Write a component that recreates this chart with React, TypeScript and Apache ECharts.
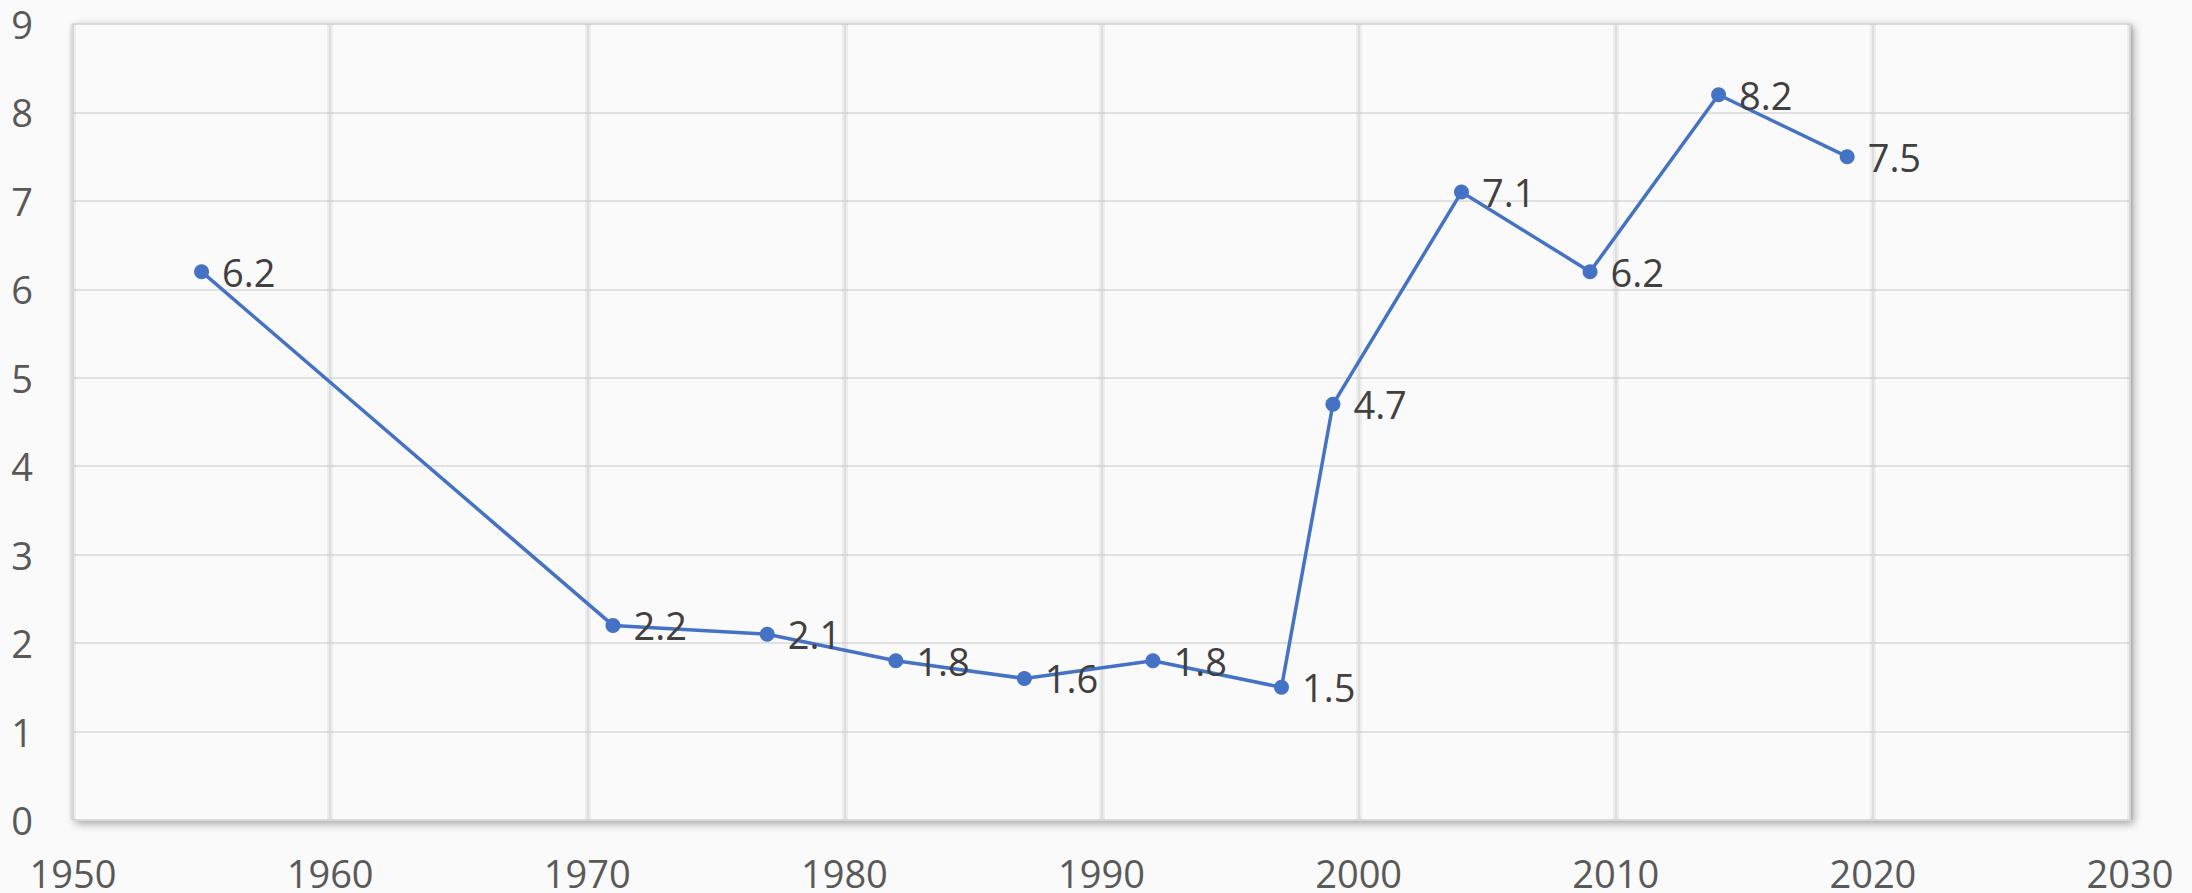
import React, { useEffect, useRef } from "react";
import * as echarts from "echarts";

const years = [1955, 1971, 1977, 1982, 1987, 1992, 1997, 1999, 2004, 2009, 2014, 2019];
const values = [6.2, 2.2, 2.1, 1.8, 1.6, 1.8, 1.5, 4.7, 7.1, 6.2, 8.2, 7.5];

export default function App() {
  const ref = useRef<HTMLDivElement>(null);
  useEffect(() => {
    document.body.style.margin = "0";
    const chart = echarts.init(ref.current!, null, { renderer: "svg" });
    const font = "'Open Sans', 'Noto Sans', sans-serif";
    chart.setOption({
      animation: false,
      backgroundColor: "#fafafa",
      grid: {
        show: true,
        left: 73,
        right: 62,
        top: 24,
        bottom: 73,
        backgroundColor: "#fafafa",
        borderColor: "#d9d9d9",
        borderWidth: 1.5,
        shadowColor: "rgba(0,0,0,0.35)",
        shadowBlur: 8,
        shadowOffsetX: 3,
        shadowOffsetY: 3,
      },
      xAxis: [
        {
          type: "value",
          min: 1950,
          max: 2030,
          interval: 10,
          axisLine: { show: false },
          axisTick: { show: false },
          axisLabel: {
            color: "#595959",
            fontSize: 38,
            fontFamily: font,
            margin: 34,
            formatter: (v: number) => String(v),
          },
          splitLine: { show: true, lineStyle: { color: "#d9d9d9", width: 1.5 } },
          z: 2,
        },
        {
          type: "value",
          min: 1949.85,
          max: 2029.85,
          interval: 10,
          show: true,
          position: "bottom",
          axisLine: { show: false },
          axisTick: { show: false },
          axisLabel: { show: false },
          splitLine: { show: true, lineStyle: { color: "rgba(0,0,0,0.05)", width: 6 } },
          z: 1,
        },
      ],
      yAxis: {
        type: "value",
        min: 0,
        max: 9,
        interval: 1,
        axisLine: { show: false },
        axisTick: { show: false },
        axisLabel: { color: "#595959", fontSize: 38, fontFamily: font, margin: 40 },
        splitLine: { show: true, lineStyle: { color: "#d9d9d9", width: 1.5 } },
      },
      series: [
        {
          type: "line",
          xAxisIndex: 0,
          data: years.map((y, i) => [y, values[i]]),
          symbol: "circle",
          symbolSize: 15,
          itemStyle: { color: "#4472C4" },
          lineStyle: { color: "#4472C4", width: 3.5 },
          label: {
            show: true,
            position: "right",
            distance: 13,
            color: "#404040",
            fontSize: 38,
            fontFamily: font,
            formatter: (p: any) => String(p.value[1]),
          },
          z: 5,
        },
      ],
    });
    return () => chart.dispose();
  }, []);
  return (
    <div
      ref={ref}
      style={{ position: "fixed", left: 0, top: 0, width: 2192, height: 893, background: "#fafafa" }}
    />
  );
}
